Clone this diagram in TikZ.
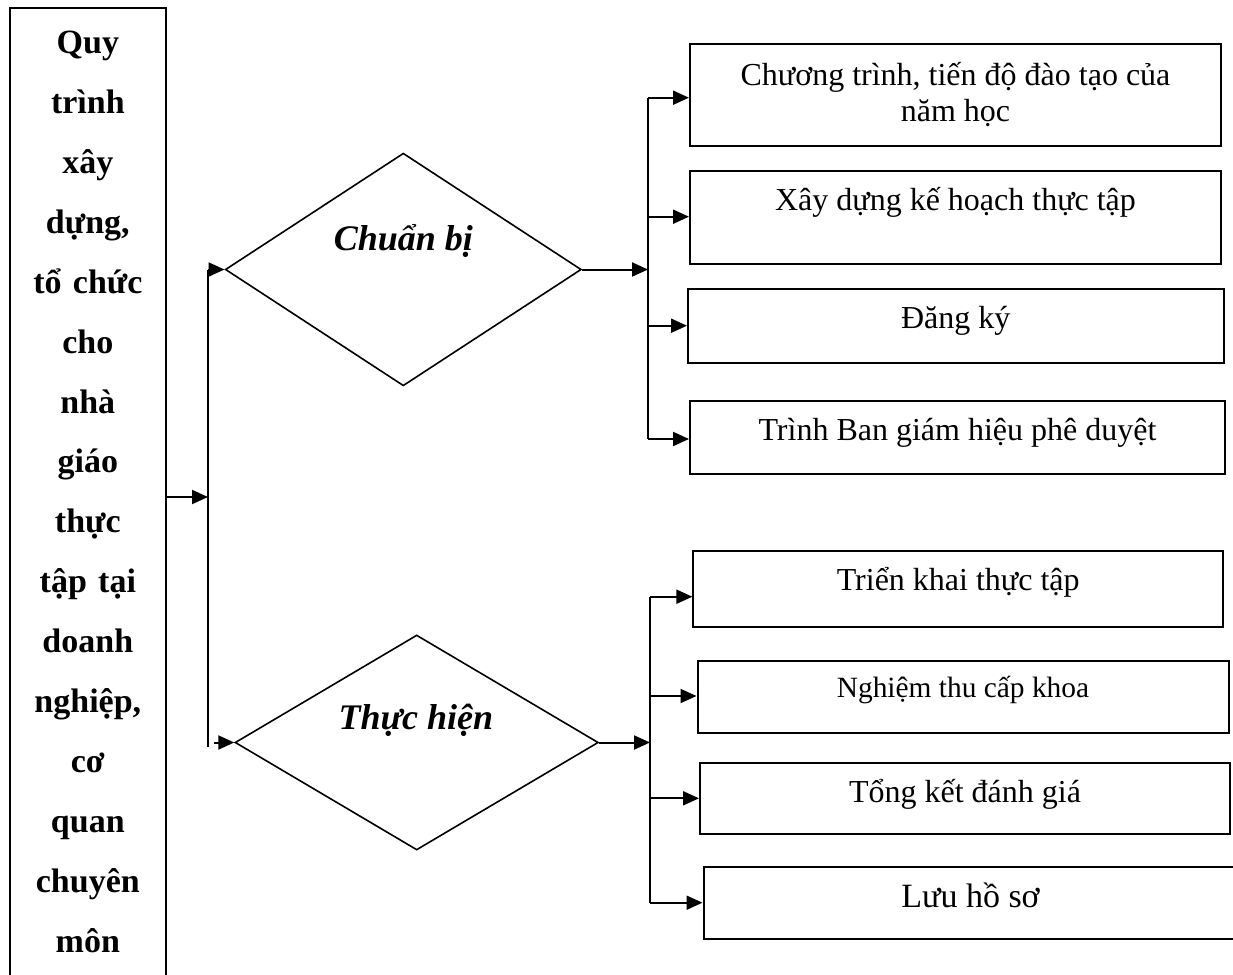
\documentclass[tikz,border=0pt]{standalone}
\usepackage{fontspec}
\setmainfont{Liberation Serif}
\usetikzlibrary{positioning, arrows.meta, shapes.geometric}

\begin{document}
\begin{tikzpicture}[x=0.5pt, y=-0.5pt, line width=1pt,
    >={Triangle[length=8pt, width=7pt]},
    procbox/.style={draw, rectangle, inner sep=0pt},
    proctext/.style={text width=78pt, align=center, inner sep=0pt,
      font=\bfseries\fontsize{17pt}{30pt}\selectfont},
    phase/.style={draw, diamond, line width=0.8pt, inner sep=0pt},
    phasetext/.style={inner sep=0pt, font=\bfseries\itshape\fontsize{18pt}{22pt}\selectfont},
    stepbox/.style={draw, rectangle, inner sep=0pt, align=center,
      font=\fontsize{16pt}{18pt}\selectfont, text height=11pt, text depth=8.5pt}]
  \useasboundingbox (0,0) rectangle (1233,975);
  \clip (0,0) rectangle (1233,975);

  % process box on the left
  \node[procbox, anchor=north, minimum width=77.85pt, minimum height=520pt] (proc) at (87.85,7) {};
  \node[proctext, anchor=base] (proclabel) at (87.85,53)
    {Quy\\trình\\xây\\dựng,\\tổ chức\\cho\\nhà\\giáo\\thực\\tập tại\\doanh\\nghiệp,\\cơ\\quan\\chuyên\\môn};

  % the two phases
  \node[phase, minimum width=178pt, minimum height=116.35pt] (prep) at (403.3,269.5) {};
  \node[phase, minimum width=181.65pt, minimum height=107.5pt] (exec) at (416.7,742.5) {};
  \node[phasetext, anchor=base] (preplabel) at (403.3,250) {Chuẩn bị};
  \node[phasetext, anchor=base] (execlabel) at (415.8,729.3) {Thực hiện};

  % steps of each phase
  \node[stepbox, minimum width=265.5pt, minimum height=51.25pt, text height={}, text depth={}] (s1) at (955.5,94.75)
    {Chương trình, tiến độ đào tạo của\\năm học};
  \node[stepbox, minimum width=265.5pt, minimum height=46.5pt, text depth=18.5pt] (s2) at (955.5,217.5)
    {Xây dựng kế hoạch thực tập};
  \node[stepbox, minimum width=267.75pt, minimum height=37pt, text depth=9pt] (s3) at (955.75,326)
    {Đăng ký};
  \node[stepbox, minimum width=267.5pt, minimum height=36.5pt] (s4) at (957.5,437.5)
    {Trình Ban giám hiệu phê duyệt};
  \node[stepbox, minimum width=264.8pt, minimum height=37.85pt, text depth=9.85pt] (s5) at (958.2,588.85)
    {Triển khai thực tập};
  \node[stepbox, minimum width=265.5pt, minimum height=36pt, text depth=11pt,
    font=\fontsize{14.7pt}{17pt}\selectfont] (s6) at (963,697)
    {Nghiệm thu cấp khoa};
  \node[stepbox, minimum width=265pt, minimum height=35.65pt, text depth=7.35pt] (s7) at (965,798.35)
    {Tổng kết đánh giá};
  \node[stepbox, minimum width=267pt, minimum height=36.15pt, text depth=6.85pt,
    font=\fontsize{17pt}{19pt}\selectfont] (s8) at (970.5,902.85)
    {Lưu hồ sơ};

  % left bus
  \coordinate (lbus) at (208,497);
  \coordinate (ltop) at (208,269.5);
  \coordinate (lbot) at (208,747);
  \coordinate (lin) at (214,742.5);
  \draw[->] (proc.east |- lbus) -- (lbus);
  \draw (ltop) -- (lbot);
  \draw[->] (ltop) -- (prep.west);
  \draw[->] (lin) -- (exec.west);

  % bus of the first phase
  \foreach \y/\s in {97.7/s1, 216.7/s2, 325.7/s3, 439/s4}{
    \coordinate (j\s) at (648,\y);
    \draw[->] (j\s) -- (j\s -| \s.west);
  }
  \draw (js1) -- (js4);
  \draw[->] (prep.east) -- (prep.east -| js1);

  % bus of the second phase
  \foreach \y/\s in {596.7/s5, 696/s6, 798.3/s7, 902.7/s8}{
    \coordinate (j\s) at (650,\y);
    \draw[->] (j\s) -- (j\s -| \s.west);
  }
  \draw (js5) -- (js8);
  \draw[->] (exec.east) -- (exec.east -| js5);
\end{tikzpicture}
\end{document}
